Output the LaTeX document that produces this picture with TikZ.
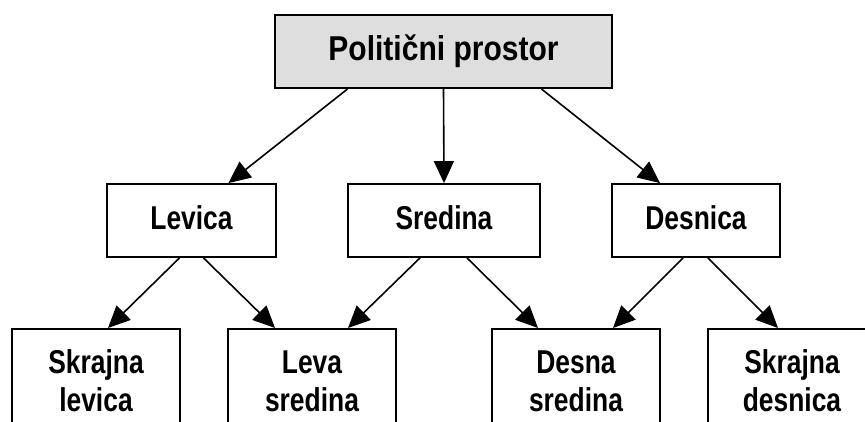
\documentclass[tikz,border=0pt]{standalone}
\usepackage{fontspec}
\setmainfont{Liberation Sans}[FakeStretch=0.8]
\newfontfamily\titlefont{Liberation Sans}[FakeStretch=0.87]
\usetikzlibrary{arrows.meta}
\tikzstyle{topbox}=[draw,line width=2pt,fill=black!13,minimum width=337pt,minimum height=73pt,inner sep=0pt,font=\titlefont\fontsize{34.5}{40}\selectfont\bfseries]
\tikzstyle{midbox}=[draw,line width=1.8pt,minimum height=73pt,inner sep=0pt,text depth=6pt,font=\fontsize{33}{38}\selectfont\bfseries]
\tikzstyle{lowbox}=[draw,line width=1.8pt,minimum width=168pt,minimum height=104pt,inner sep=0pt,anchor=north,align=center,font=\fontsize{33}{38}\selectfont\bfseries]
\tikzstyle{edge}=[draw,line width=1.6pt,-{Triangle[length=22pt,width=20pt]}]

\begin{document}
\begin{tikzpicture}[x=1pt,y=-1pt]
    \useasboundingbox (0,0) rectangle (865,421);
    \clip (0,0) rectangle (865,421);
    % First we draw the boxes
    \node[topbox] (pp) at (443.5,51.5) {Politični prostor};
    \foreach \pos/\name/\txt/\w in {{(191.5,220.5)/lev/Levica/169}, {(444,220.5)/sre/Sredina/192}, {(696,220.5)/des/Desnica/168}}
        \node[midbox, minimum width=\w pt] (\name) at \pos {\txt};
    \foreach \pos/\name/\txt in {{(96,328)/skl/Skrajna\\levica}, {(312,328)/lsr/Leva\\sredina},
                                 {(576,328)/dsr/Desna\\sredina}, {(792,328)/skd/Skrajna\\desnica}}
        \node[lowbox] (\name) at \pos {\txt};

    % Connect boxes with arrows
    \foreach \source/\sx/\dest/\dx in {pp/-96/lev/37, pp/0/sre/0, pp/98/des/-36}
        \path[edge] ([xshift=\sx pt]\source.south) -- ([xshift=\dx pt]\dest.north);
    \foreach \source/\sx/\dest/\dx in {lev/-12/skl/12, lev/12/lsr/-37, sre/-24/lsr/36,
                                       sre/23/dsr/-38, des/-13/dsr/37, des/12/skd/-14}
        \path[edge] ([xshift=\sx pt]\source.south) -- ([xshift=\dx pt]\dest.north);
\end{tikzpicture}
\end{document}
